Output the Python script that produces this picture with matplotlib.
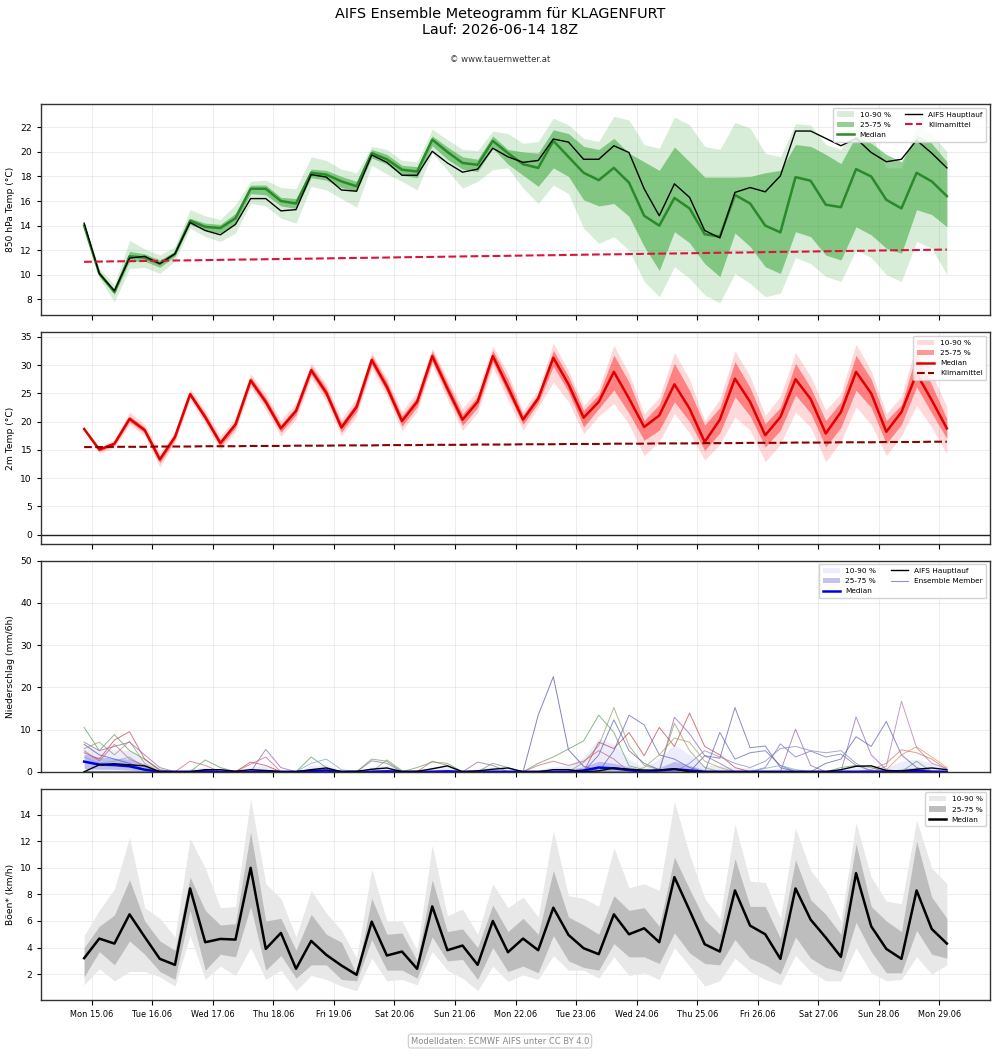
import numpy as np
import pandas as pd
import matplotlib
matplotlib.use('Agg')
import matplotlib.pyplot as plt
import matplotlib.dates as mdates
from matplotlib.patches import Patch
from matplotlib.lines import Line2D

times = pd.date_range('2026-06-14 21:00', periods=58, freq='6h')

# 850 hPa temperature
t850_main = [14.2, 10.1, 8.7, 11.35, 11.5, 10.9, 11.7, 14.25, 13.6, 13.25, 14.1, 16.2, 16.2, 15.2, 15.3,
             18.15, 17.95, 16.9, 16.8, 19.75, 19.15, 18.1, 18.1, 20.05, 19.1, 18.35, 18.6, 20.3, 19.6,
             19.15, 19.3, 21.05, 20.8, 19.4, 19.4, 20.5, 19.95, 17.0, 14.8, 17.4, 16.3, 13.6, 13.0, 16.7,
             17.1, 16.75, 18.05, 21.7, 21.7, 21.1, 20.5, 21.1, 19.95, 19.2, 19.4, 20.95, 19.9, 18.7]
t850_med = [14.0, 10.1, 8.6, 11.5, 11.4, 10.9, 11.7, 14.4, 13.9, 13.8, 14.6, 17.0, 17.0, 16.0, 15.8,
            18.3, 18.15, 17.6, 17.2, 19.9, 19.4, 18.55, 18.4, 21.0, 20.0, 19.1, 18.95, 20.9,
            19.9, 19.0, 18.7, 20.9, 19.6, 18.3, 17.7, 18.7, 17.5, 14.8, 14.0, 16.25, 15.4, 13.3, 13.1,
            16.5, 15.8, 14.0, 13.45, 17.95, 17.65, 15.7, 15.5, 18.6, 18.0, 16.1, 15.4, 18.3, 17.6, 16.4]
t850_p25 = [13.8, 9.9, 8.4, 11.1, 11.1, 10.6, 11.5, 14.1, 13.6, 13.4, 14.2, 16.6, 16.5, 15.6, 15.4,
            17.9, 17.7, 17.1, 16.8, 19.5, 19.0, 18.1, 17.9, 20.5, 19.4, 18.6, 18.4, 20.3,
            19.0, 18.1, 17.2, 18.7, 18.0, 16.1, 15.6, 15.8, 14.75, 12.3, 10.35, 13.5, 12.6, 10.9, 9.85,
            13.4, 12.3, 10.65, 10.1, 13.5, 13.1, 11.6, 11.2, 13.9, 13.25, 12.15, 11.75, 15.3, 14.9, 13.9]
t850_p75 = [14.2, 10.3, 8.8, 11.9, 11.7, 11.2, 11.9, 14.6, 14.2, 14.1, 15.0, 17.3, 17.3, 16.3, 16.2,
            18.6, 18.5, 18.0, 17.6, 20.2, 19.8, 18.9, 18.8, 21.3, 20.4, 19.6, 19.4, 21.3,
            20.2, 20.0, 19.9, 21.8, 21.5, 20.45, 20.2, 21.1, 19.9, 19.2, 18.5, 20.4, 19.2, 17.95, 17.95,
            17.95, 18.0, 18.3, 18.5, 20.6, 20.45, 19.8, 19.05, 21.3, 20.7, 19.8, 19.2, 21.4, 20.7, 19.2]
t850_p10 = [13.6, 9.7, 7.8, 10.5, 10.6, 10.1, 11.1, 13.8, 13.1, 12.7, 13.4, 15.8, 15.6, 14.6, 14.2,
            17.2, 16.9, 16.2, 15.5, 18.9, 18.2, 17.6, 16.9, 19.9, 18.5, 17.05, 17.6, 18.55,
            18.7, 17.05, 15.8, 17.3, 16.6, 13.8, 12.55, 13.1, 12.0, 9.45, 8.2, 10.65, 9.7, 8.35, 7.7,
            10.1, 9.3, 8.2, 8.5, 11.4, 10.9, 9.85, 9.45, 12.0, 11.4, 10.0, 9.45, 12.7, 12.15, 10.0]
t850_p90 = [14.3, 10.5, 9.2, 12.8, 12.1, 11.6, 12.3, 15.3, 14.8, 14.5, 15.7, 17.6, 17.7, 17.1, 17.0,
            19.6, 19.3, 18.6, 18.3, 20.45, 20.2, 19.3, 19.2, 21.85, 21.0, 20.2, 20.1, 21.7,
            21.5, 20.7, 20.85, 22.75, 22.2, 21.1, 20.85, 22.9, 22.6, 20.6, 20.3, 22.85, 22.2, 20.45, 20.2,
            22.4, 21.95, 19.9, 19.6, 22.3, 22.2, 20.6, 20.2, 22.2, 21.5, 18.7, 18.7, 22.1, 21.4, 20.05]
t850_clim = [11.05, 11.07, 11.09, 11.10, 11.12, 11.14, 11.16, 11.17, 11.19, 11.21, 11.23, 11.24, 11.26,
             11.28, 11.30, 11.31, 11.33, 11.35, 11.37, 11.38, 11.40, 11.42, 11.44, 11.45, 11.47, 11.49,
             11.51, 11.52, 11.54, 11.56, 11.58, 11.59, 11.61, 11.63, 11.65, 11.66, 11.68, 11.70, 11.72,
             11.73, 11.75, 11.77, 11.79, 11.80, 11.82, 11.84, 11.86, 11.87, 11.89, 11.91, 11.93, 11.94,
             11.96, 11.98, 12.00, 12.01, 12.03, 12.05]

# 2m temperature
t2m_med = [18.7, 15.05, 16.1, 20.5, 18.5, 13.3, 17.3, 24.85, 20.8, 16.2, 19.5, 27.3, 23.5, 18.8, 21.9,
           29.1, 25.1, 18.95, 22.6, 30.9, 26.15, 20.1, 23.5, 31.6, 25.85, 20.35, 23.5, 31.6,
           26.1, 20.35, 24.1, 31.3, 26.6, 20.7, 23.5, 28.8, 24.1, 19.05, 21.1, 26.6, 22.3, 16.4, 20.35,
           27.6, 23.5, 17.6, 20.8, 27.5, 24.0, 17.9, 21.7, 28.8, 25.0, 18.2, 21.7, 28.5, 23.8, 18.8]
t2m_p25 = [18.6, 14.75, 15.8, 20.0, 18.0, 12.7, 16.8, 24.35, 20.2, 15.6, 18.9, 26.7, 22.8, 18.1, 21.2,
           28.4, 24.3, 18.15, 21.8, 30.1, 25.25, 19.2, 22.6, 30.7, 24.85, 19.35, 22.5, 30.6,
           25.0, 19.5, 23.3, 29.8, 25.3, 19.05, 22.3, 25.6, 21.5, 16.7, 18.5, 23.5, 20.0, 14.9, 18.0,
           24.4, 21.0, 15.5, 18.5, 24.7, 21.5, 15.5, 19.0, 25.55, 22.5, 16.1, 19.5, 26.15, 21.5, 17.0]
t2m_p75 = [18.8, 15.35, 16.4, 21.0, 19.0, 13.9, 17.8, 25.35, 21.4, 16.8, 20.1, 27.9, 24.2, 19.5, 22.6,
           29.8, 25.9, 19.75, 23.4, 31.7, 27.05, 21.0, 24.4, 32.5, 26.85, 21.35, 24.5, 32.6,
           27.5, 21.2, 24.9, 32.6, 28.0, 22.0, 24.8, 31.75, 27.0, 20.2, 23.0, 30.3, 25.5, 19.4, 22.5,
           30.6, 26.0, 19.65, 22.5, 30.3, 26.0, 20.2, 23.5, 31.75, 27.5, 20.2, 23.0, 32.05, 26.5, 20.5]
t2m_p10 = [18.5, 14.45, 15.4, 19.5, 17.5, 12.0, 16.3, 23.85, 19.6, 15.0, 18.2, 26.1, 22.1, 17.4, 20.4,
           27.7, 23.5, 17.45, 21.0, 29.4, 24.45, 18.4, 21.8, 30.0, 23.95, 18.45, 21.6, 29.6,
           23.8, 18.5, 22.5, 27.0, 23.5, 17.9, 21.0, 23.2, 19.5, 14.0, 16.5, 21.4, 18.0, 13.2, 16.0,
           20.8, 18.5, 12.9, 16.0, 21.7, 19.0, 12.9, 16.5, 22.6, 19.5, 14.0, 17.5, 22.9, 19.0, 14.3]
t2m_p90 = [18.9, 15.55, 16.8, 21.7, 19.5, 14.5, 18.3, 25.85, 22.0, 17.5, 20.7, 28.5, 24.9, 20.3, 23.4,
           30.4, 26.6, 20.55, 24.2, 32.2, 27.75, 21.8, 25.3, 33.0, 27.65, 22.35, 25.5, 33.4,
           28.5, 22.0, 25.6, 33.9, 29.0, 22.9, 25.8, 33.5, 28.5, 21.4, 24.3, 32.2, 27.5, 20.2, 24.0,
           32.5, 28.0, 21.1, 24.5, 32.2, 28.0, 22.0, 25.0, 33.7, 29.0, 21.4, 24.5, 33.8, 28.5, 22.6]
t2m_clim = [15.5, 15.5, 15.55, 15.55, 15.55, 15.6, 15.6, 15.6, 15.65, 15.65,
            15.65, 15.7, 15.7, 15.7, 15.75, 15.75, 15.75, 15.8, 15.8, 15.8,
            15.85, 15.85, 15.85, 15.9, 15.9, 15.9, 15.95, 15.95, 15.95, 16.0,
            16.0, 16.0, 16.05, 16.05, 16.05, 16.1, 16.1, 16.1, 16.15, 16.15,
            16.15, 16.2, 16.2, 16.2, 16.25, 16.25, 16.25, 16.3, 16.3, 16.3,
            16.35, 16.35, 16.35, 16.4, 16.4, 16.4, 16.45, 16.45]

# precipitation (mm/6h)
prc_main = [0, 1.65, 1.9, 1.65, 1.4, 0, 0, 0, 0.5, 0.5, 0.1, 0.5, 0.3, 0, 0, 0.5, 0.9, 0, 0.1, 0.6,
            0.9, 0, 0.1, 0.7, 1.4, 0, 0.2, 0.6, 0.9, 0, 0, 0.5, 0.5, 0, 0.2, 0.9, 0.6, 0.4, 0.4, 0.7,
            0, 0, 0, 0, 0, 0, 0, 0, 0, 0, 0.5, 1.3, 1.4, 0.3, 0.2, 0.6, 0.9, 0.5]
prc_med = [2.4, 1.7, 1.6, 1.3, 0.5, 0, 0, 0, 0.1, 0, 0, 0, 0.1, 0, 0, 0.2, 0.3, 0, 0, 0,
           0.1, 0, 0, 0, 0.1, 0, 0, 0, 0, 0, 0, 0, 0, 0.3, 1.0, 0.8, 0.4, 0, 0.3, 0.6,
           0.3, 0, 0, 0, 0, 0, 0, 0, 0, 0, 0, 0, 0, 0, 0, 0.2, 0, 0]
prc_p25 = [0.8, 0.6, 0.6, 0.4, 0.1] + [0] * 53
prc_p75 = [4.2, 3.5, 3.2, 3.0, 1.8, 0.2, 0, 0.2, 0.3, 0, 0, 0.3, 0.5, 0, 0, 0.5, 0.8, 0, 0, 0.4,
           0.5, 0, 0, 0.4, 0.5, 0, 0, 0.4, 0.3, 0, 0, 0.3, 0.5, 1.2, 2.5, 2.0, 1.2, 0.3, 1.0, 2.5,
           1.5, 0.5, 0.4, 0.3, 0.3, 0, 0.3, 0, 0, 0, 0, 0.3, 0.3, 0, 0.8, 1.0, 0.6, 0.3]
prc_p10 = [0] * 58
prc_p90 = [6.0, 5.0, 5.2, 5.0, 3.0, 0.8, 0, 0.8, 1.0, 0.5, 0.2, 1.2, 1.5, 0.3, 0, 1.5, 1.8, 0.2, 0, 1.2,
           1.5, 0.2, 0.2, 1.2, 1.5, 0.1, 0.8, 1.2, 0.8, 0, 0.5, 1.2, 1.5, 3.5, 7.9, 6.5, 3.0, 1.0, 3.0, 6.5,
           4.0, 1.5, 1.5, 1.0, 1.0, 0.5, 1.0, 0.8, 0.5, 0.5, 0.5, 1.2, 1.0, 1.0, 2.5, 3.0, 2.0, 0.8]

# visible ensemble members: {step index: mm/6h}, zero elsewhere
members = [
    {0: 6.5, 1: 4.0, 2: 3.0, 3: 2.0, 4: 0.5, 30: 13.4, 31: 22.5, 32: 5.2, 33: 1.3, 34: 0.3},
    {0: 10.5, 1: 5.0, 2: 8.8, 3: 5.0, 4: 3.0, 5: 0.5, 8: 2.8, 9: 1.0, 15: 3.5, 16: 1.0, 30: 2.0,
     31: 3.5, 32: 5.4, 33: 7.3, 34: 13.4, 35: 9.3, 36: 1.4, 37: 0.5},
    {0: 5.5, 1: 7.0, 2: 4.0, 3: 7.2, 4: 2.0, 20: 2.8, 21: 0.3, 33: 2.2, 34: 6.2, 35: 15.2, 36: 6.2,
     37: 1.5, 38: 0.5, 39: 11.5, 40: 5.0, 41: 1.0},
    {0: 4.5, 1: 3.0, 2: 7.5, 3: 9.5, 4: 3.0, 5: 0.3, 11: 2.3, 12: 1.5, 34: 7.0, 35: 5.5, 36: 9.3,
     37: 3.8, 38: 10.5, 39: 6.0, 40: 13.9, 41: 6.0, 42: 4.0, 43: 1.0},
    {0: 7.0, 1: 5.0, 2: 6.0, 3: 7.0, 4: 4.0, 5: 1.0, 12: 5.3, 13: 1.0, 19: 2.6, 20: 2.0, 26: 2.3,
     27: 1.5, 39: 12.9, 40: 9.0, 41: 3.8, 42: 2.0, 47: 10.1, 48: 1.5, 51: 13.0, 52: 4.0, 53: 0.5},
    {34: 4.0, 35: 12.3, 36: 5.0, 37: 2.0, 38: 0.5, 42: 9.3, 43: 3.0, 44: 4.5, 45: 5.0, 46: 1.5},
    {35: 5.0, 36: 13.4, 37: 11.1, 38: 4.0, 39: 3.0, 40: 1.0},
    {41: 3.8, 42: 3.2, 43: 15.2, 44: 5.7, 45: 6.1, 46: 1.0},
    {45: 1.0, 46: 6.6, 47: 3.5, 48: 4.9, 49: 3.5, 50: 4.2, 51: 1.5, 52: 0.3},
    {49: 2.0, 50: 3.0, 51: 8.3, 52: 6.0, 53: 11.9, 54: 4.0, 55: 1.0},
    {53: 1.3, 54: 16.7, 55: 5.7, 56: 2.0, 57: 0.8},
    {53: 0.5, 54: 4.0, 55: 5.9, 56: 3.5, 57: 1.0},
    {52: 0.5, 53: 2.0, 54: 5.2, 55: 4.5, 56: 3.0, 57: 0.5},
    {0: 3.5, 1: 2.0, 2: 2.5, 3: 3.5, 4: 1.0, 15: 2.0, 16: 3.0, 17: 0.5, 45: 0.8, 46: 1.5, 47: 0.5},
    {0: 5.0, 1: 2.5, 2: 6.5, 3: 3.0, 4: 1.5, 7: 2.5, 8: 1.5, 11: 1.8, 12: 3.5, 23: 2.5, 24: 1.5,
     30: 1.5, 31: 2.5, 32: 1.5, 33: 2.5, 34: 5.0, 35: 3.0},
    {37: 1.0, 38: 4.0, 39: 8.0, 40: 7.0, 41: 2.5, 42: 1.0},
    {40: 2.0, 41: 5.0, 42: 3.5, 43: 2.0, 44: 1.0, 45: 2.5, 46: 5.5, 47: 6.0, 48: 5.0, 49: 4.5,
     50: 5.0, 51: 2.0},
    {19: 3.0, 20: 2.5, 22: 1.0, 23: 2.3, 24: 2.0, 27: 2.0, 28: 1.0, 50: 1.0, 51: 1.5, 52: 1.0, 55: 2.5},
]
member_colors = ['#4f4fa0', '#5a9a5a', '#8aa060', '#c04050', '#9060b0', '#5860b0', '#6060a8',
                 '#5a5aa5', '#7070b8', '#5a5aa8', '#b070b0', '#e09050', '#d07070', '#70a8d0',
                 '#c86080', '#a0a060', '#8080c0', '#60a060']

# gusts
gust_med = [3.2, 4.675, 4.3, 6.5, 4.8, 3.15, 2.7, 8.45, 4.4, 4.65, 4.6, 10.0, 3.9, 5.1, 2.4, 4.5,
            3.45, 2.65, 1.95, 5.95, 3.4, 3.7, 2.4, 7.1, 3.8, 4.15, 2.7, 6.0, 3.65, 4.675, 3.8, 7.0,
            4.95, 3.95, 3.5, 6.5, 5.0, 5.45, 4.4, 9.3, 6.8, 4.25, 3.7, 8.3, 5.65, 5.0, 3.15, 8.45,
            6.1, 4.75, 3.3, 9.6, 5.6, 3.9, 3.15, 8.3, 5.4, 4.3]
gust_p25 = [1.8, 3.7, 2.7, 4.5, 3.5, 2.2, 1.6, 6.8, 2.3, 3.5, 3.3, 7.1, 2.3, 3.4, 1.7, 2.7, 2.7, 1.6,
            1.5, 4.6, 2.3, 2.3, 1.7, 4.8, 3.0, 3.1, 1.6, 4.0,
            2.2, 2.6, 2.1, 4.9, 3.0, 2.5, 2.3, 4.3, 3.3, 3.3, 2.8, 5.1, 3.6, 2.8, 2.7, 4.6, 3.2, 2.7,
            2.0, 4.8, 3.2, 2.5, 2.2, 5.9, 3.7, 2.1, 2.1, 5.3, 3.5, 3.2]
gust_p75 = [4.0, 5.6, 6.45, 9.1, 6.0, 4.5, 3.8, 9.3, 6.8, 5.7, 5.8, 12.7, 6.0, 6.2, 3.8, 6.5, 5.0, 4.4,
            2.0, 7.7, 5.0, 5.1, 3.0, 9.1, 5.2, 5.4, 4.0, 7.2,
            5.2, 6.2, 5.0, 9.8, 6.3, 5.7, 5.0, 7.9, 6.8, 7.0, 5.6, 10.8, 8.4, 6.1, 5.0, 10.7, 7.1, 7.1,
            4.7, 10.6, 7.6, 6.5, 5.0, 11.8, 7.1, 6.0, 5.2, 12.0, 7.8, 6.2]
gust_p10 = [1.2, 2.4, 1.5, 2.2, 2.2, 1.8, 1.1, 4.9, 1.6, 2.6, 1.9, 4.0, 1.6, 2.3, 0.75, 1.9, 1.6, 1.1,
            0.75, 3.2, 1.5, 1.6, 1.2, 3.7, 2.3, 1.7, 0.75, 2.6,
            1.45, 1.95, 1.6, 3.4, 2.3, 2.3, 1.7, 3.3, 1.9, 2.1, 1.6, 4.0, 2.6, 1.1, 1.5, 3.2, 2.2, 1.6,
            1.2, 3.4, 2.2, 1.5, 1.5, 4.0, 2.1, 1.5, 1.6, 3.3, 2.0, 2.7]
gust_p90 = [4.9, 6.8, 8.4, 12.3, 7.0, 6.2, 4.8, 12.2, 10.0, 7.0, 7.1, 15.2, 8.8, 7.7, 4.8, 8.3, 6.6, 5.3,
            3.2, 9.9, 6.0, 6.0, 3.8, 11.7, 6.4, 6.9, 5.0, 8.8,
            7.0, 7.8, 6.3, 12.8, 7.9, 7.7, 7.1, 11.5, 8.5, 8.8, 8.3, 15.0, 11.0, 7.7, 6.2, 13.3, 9.0, 8.9,
            6.2, 13.0, 9.8, 8.3, 6.0, 13.4, 9.3, 7.5, 7.3, 13.6, 10.0, 8.8]

fig, axes = plt.subplots(4, 1, figsize=(10, 10.56), dpi=100, sharex=True)
fig.subplots_adjust(left=0.041, right=0.99, top=0.9015, bottom=0.053, hspace=0.0806)

fig.suptitle('AIFS Ensemble Meteogramm für KLAGENFURT\nLauf: 2026-06-14 18Z', y=0.9935, fontsize=10.4)
fig.text(0.5, 1 - 59 / 1056, '© www.tauernwetter.at', ha='center', va='center', fontsize=6.1, color='#333333')
fig.text(0.5, 1 - 1041 / 1056, 'Modelldaten: ECMWF AIFS unter CC BY 4.0', ha='center', va='center',
         fontsize=6, color='#888888',
         bbox=dict(boxstyle='round,pad=0.3', facecolor='white', edgecolor='#cccccc', linewidth=0.8))

leg_kw = dict(loc='upper right', fontsize=5.3, framealpha=0.85, handlelength=2.3, borderpad=0.5, labelspacing=0.55)

# 850 hPa
ax = axes[0]
ax.fill_between(times, t850_p10, t850_p90, color='#2ca02c', alpha=0.18, linewidth=0)
ax.fill_between(times, t850_p25, t850_p75, color='#2ca02c', alpha=0.5, linewidth=0)
ax.plot(times, t850_med, color='#2a8a2a', linewidth=1.8)
ax.plot(times, t850_main, color='black', linewidth=1.0)
ax.plot(times, t850_clim, color='crimson', linestyle='--', linewidth=1.5)
ax.set_ylim(6.7, 23.9)
ax.set_yticks(np.arange(8, 23, 2))
ax.set_ylabel('850 hPa Temp (°C)', fontsize=6.6)
handles = [Patch(color='#2ca02c', alpha=0.18, linewidth=0), Patch(color='#2ca02c', alpha=0.5, linewidth=0),
           Line2D([], [], color='#2a8a2a', linewidth=1.8), Line2D([], [], color='black', linewidth=1.0),
           Line2D([], [], color='crimson', linestyle='--', linewidth=1.5)]
ax.legend(handles, ['10-90 %', '25-75 %', 'Median', 'AIFS Hauptlauf', 'Klimamittel'], ncol=2, **leg_kw)

# 2m
ax = axes[1]
ax.fill_between(times, t2m_p10, t2m_p90, color='red', alpha=0.15, linewidth=0)
ax.fill_between(times, t2m_p25, t2m_p75, color='red', alpha=0.4, linewidth=0)
ax.plot(times, t2m_med, color='#e00000', linewidth=1.8)
ax.plot(times, t2m_clim, color='darkred', linestyle='--', linewidth=1.5)
ax.axhline(0, color='#222222', linewidth=1.0)
ax.set_ylim(-1.55, 35.8)
ax.set_yticks(np.arange(0, 36, 5))
ax.set_ylabel('2m Temp (°C)', fontsize=6.6)
handles = [Patch(color='red', alpha=0.15, linewidth=0), Patch(color='red', alpha=0.4, linewidth=0),
           Line2D([], [], color='#e00000', linewidth=1.8),
           Line2D([], [], color='darkred', linestyle='--', linewidth=1.5)]
ax.legend(handles, ['10-90 %', '25-75 %', 'Median', 'Klimamittel'], **leg_kw)

# precipitation
ax = axes[2]
for m, c in zip(members, member_colors):
    vals = np.zeros(len(times))
    for k, v in m.items():
        vals[k] = v
    ax.plot(times, vals, color=c, linewidth=0.7, alpha=0.7)
ax.fill_between(times, prc_p10, prc_p90, color='#6666ee', alpha=0.12, linewidth=0)
ax.fill_between(times, prc_p25, prc_p75, color='#3333dd', alpha=0.25, linewidth=0)
ax.plot(times, prc_med, color='#0000dd', linewidth=1.8)
ax.plot(times, prc_main, color='black', linewidth=1.0)
ax.set_ylim(0, 50)
ax.set_yticks(np.arange(0, 51, 10))
ax.set_ylabel('Niederschlag (mm/6h)', fontsize=6.6)
handles = [Patch(color='#6666ee', alpha=0.12, linewidth=0), Patch(color='#3333dd', alpha=0.3, linewidth=0),
           Line2D([], [], color='#0000dd', linewidth=1.8), Line2D([], [], color='black', linewidth=1.0),
           Line2D([], [], color='#9a8fc8', linewidth=0.8)]
ax.legend(handles, ['10-90 %', '25-75 %', 'Median', 'AIFS Hauptlauf', 'Ensemble Member'], ncol=2, **leg_kw)

# gusts
ax = axes[3]
ax.fill_between(times, gust_p10, gust_p90, color='#e8e8e8', linewidth=0)
ax.fill_between(times, gust_p25, gust_p75, color='#bdbdbd', linewidth=0)
ax.plot(times, gust_med, color='black', linewidth=1.8)
ax.set_ylim(0.05, 15.95)
ax.set_yticks(np.arange(2, 15, 2))
ax.set_ylabel('Böen* (km/h)', fontsize=6.6)
handles = [Patch(color='#e8e8e8', linewidth=0), Patch(color='#bdbdbd', linewidth=0),
           Line2D([], [], color='black', linewidth=1.8)]
ax.legend(handles, ['10-90 %', '25-75 %', 'Median'], **leg_kw)

for ax in axes:
    ax.grid(True, color='#dddddd', alpha=0.6, linewidth=0.6)
    ax.tick_params(axis='y', labelsize=6.6, length=3, width=0.8)
    ax.tick_params(axis='x', labelsize=5.9, length=3.5, width=0.8)
    for s in ax.spines.values():
        s.set_color('#333333')
        s.set_linewidth(1.0)
    ax.set_axisbelow(True)

axes[3].xaxis.set_major_locator(mdates.DayLocator())
axes[3].xaxis.set_major_formatter(mdates.DateFormatter('%a %d.%m'))

fig.savefig('out.png', dpi=100)
